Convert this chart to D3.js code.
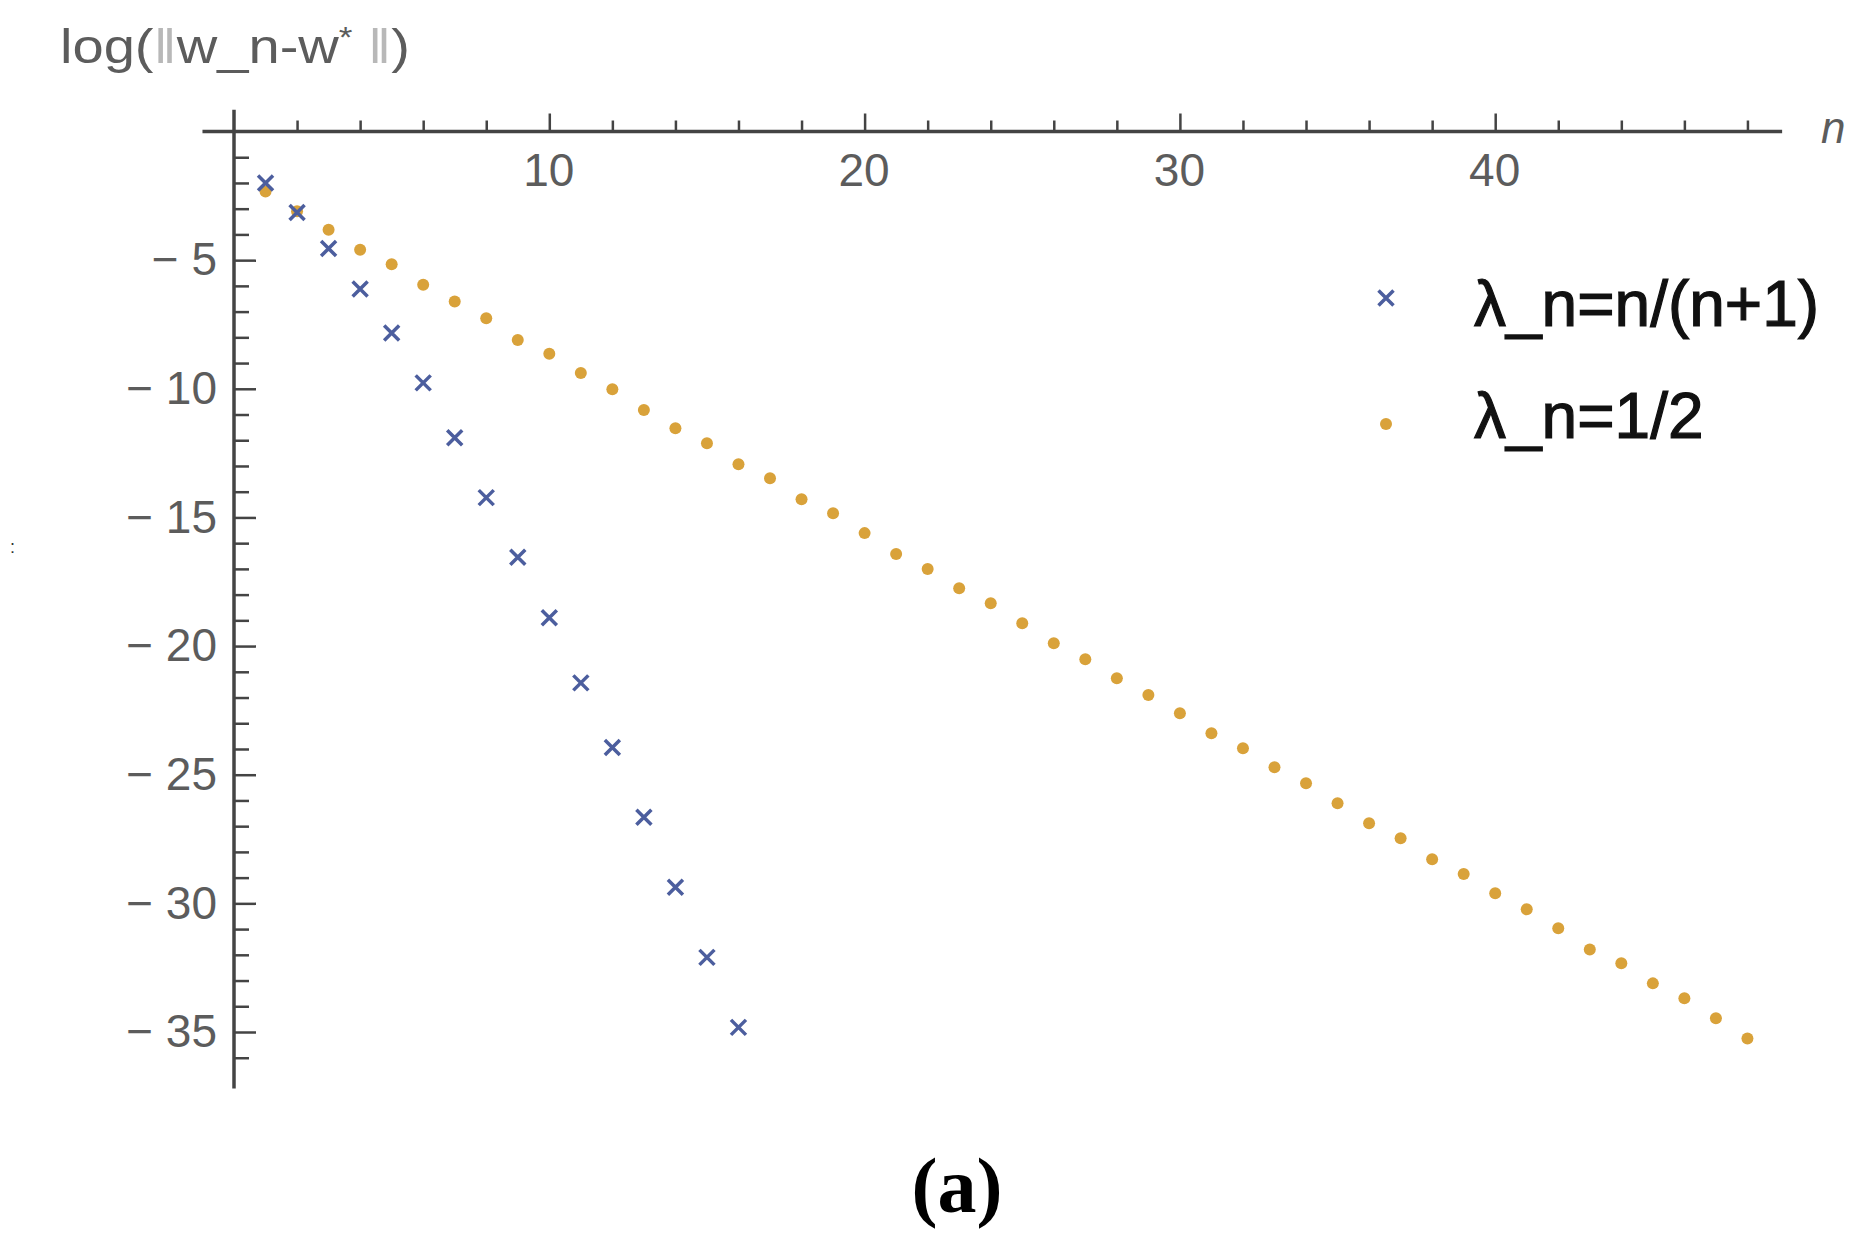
<!DOCTYPE html>
<html>
<head>
<meta charset="utf-8">
<script src="https://cdn.jsdelivr.net/npm/d3@7"></script>
<style>
  html, body { margin: 0; padding: 0; background: #fff; }
  svg { display: block; }
  text { font-family: "Liberation Sans", Arial, sans-serif; }
</style>
</head>
<body>
<svg id="chart"></svg>
<script>
// Données
const nBlue = d3.range(1, 17);
const blueValues = [-2.0, -3.15, -4.55, -6.12, -7.83, -9.77, -11.9, -14.23,
  -16.55, -18.9, -21.43, -23.94, -26.65, -29.37, -32.1, -34.82];

const nOrange = d3.range(1, 49);
const orangeValues = [-2.33, -3.1, -3.82, -4.6, -5.16, -5.96, -6.61, -7.26,
  -8.1, -8.64, -9.39, -10.02, -10.82, -11.53, -12.12, -12.93, -13.48, -14.29,
  -14.84, -15.61, -16.42, -17.0, -17.75, -18.34, -19.11, -19.89, -20.51, -21.25,
  -21.9, -22.61, -23.39, -23.97, -24.71, -25.33, -26.11, -26.89, -27.47, -28.29,
  -28.86, -29.61, -30.23, -30.97, -31.79, -32.33, -33.11, -33.69, -34.47, -35.25];

const xMajorTicks = [10, 20, 30, 40];
const xMinorTicks = d3.range(2, 50, 2).filter(v => v % 10 !== 0);
const yMajorTicks = [-5, -10, -15, -20, -25, -30, -35];
const yMinorTicks = d3.range(-1, -37, -1).filter(v => v % 5 !== 0);

const legendLabels = ["\u03BB_n=n/(n+1)", "\u03BB_n=1/2"];

// Dimensions de la scène
const width = 1864, height = 1242;
const svg = d3.select("#chart").attr("width", width).attr("height", height);

const x = d3.scaleLinear().domain([0, 40]).range([234, 234 + 40 * 31.53]);
const y = d3.scaleLinear().domain([0, -35]).range([131.5, 1032]);

const axisColor = "#444";
const labelColor = "#5c5c5c";

// Axe des x (graduations vers le haut, étiquettes en dessous)
const gx = svg.append("g").attr("transform", `translate(0,${y(0)})`);
gx.append("g")
    .call(d3.axisBottom(x).tickValues(xMinorTicks).tickSize(-11).tickSizeOuter(0).tickFormat(""));
gx.append("g")
    .call(d3.axisBottom(x).tickValues(xMajorTicks).tickSize(-18).tickSizeOuter(0).tickPadding(22));
gx.selectAll(".domain").remove();
gx.selectAll("line").attr("stroke", axisColor).attr("stroke-width", 2.5);
gx.selectAll("text")
    .attr("font-size", 46)
    .attr("fill", labelColor)
    .attr("dx", -1)
    .style("font-family", "Liberation Sans, Arial, sans-serif");
gx.append("line")
    .attr("x1", x(-1)).attr("x2", x(49.1))
    .attr("stroke", axisColor).attr("stroke-width", 3.5);

// Axe des y (graduations vers la droite)
const gy = svg.append("g").attr("transform", `translate(${x(0)},0)`);
gy.append("g")
    .call(d3.axisLeft(y).tickValues(yMinorTicks).tickSize(-15).tickSizeOuter(0).tickFormat(""));
gy.append("g")
    .call(d3.axisLeft(y).tickValues(yMajorTicks).tickSize(-22).tickSizeOuter(0).tickPadding(17)
        .tickFormat(d => "\u2212 " + Math.abs(d)));
gy.selectAll(".domain").remove();
gy.selectAll("line").attr("stroke", axisColor).attr("stroke-width", 2.5);
gy.selectAll("text")
    .attr("font-size", 46)
    .attr("fill", labelColor)
    .style("font-family", "Liberation Sans, Arial, sans-serif");
gy.append("line")
    .attr("y1", y(0.85)).attr("y2", y(-37.2))
    .attr("stroke", axisColor).attr("stroke-width", 3.5);

// Titres des axes
const yTitle = svg.append("text")
    .attr("x", 60).attr("y", 63)
    .attr("font-size", 48)
    .attr("fill", labelColor)
    .attr("textLength", 350)
    .attr("lengthAdjust", "spacingAndGlyphs");
yTitle.append("tspan").text("log(");
yTitle.append("tspan").attr("fill", "#b8b8b8").text("\u2016");
yTitle.append("tspan").text("w_n-w");
yTitle.append("tspan").attr("font-size", 30).attr("dy", -16).text("*");
yTitle.append("tspan").attr("dy", 16).attr("fill", "#b8b8b8").text(" \u2016");
yTitle.append("tspan").text(")");

svg.append("text")
    .attr("x", 1821).attr("y", 143)
    .attr("font-size", 44)
    .attr("font-style", "italic")
    .attr("fill", labelColor)
    .text("n");

svg.append("text")
    .attr("x", 10).attr("y", 553)
    .attr("font-size", 18)
    .attr("fill", "#333")
    .text(":");

// Points oranges (lambda_n = 1/2)
const orangeColor = "#d9a23a";
svg.append("g").selectAll("circle")
    .data(nOrange.map((n, i) => ({ n, v: orangeValues[i] })))
    .enter().append("circle")
    .attr("cx", d => x(d.n))
    .attr("cy", d => y(d.v))
    .attr("r", 6)
    .attr("fill", orangeColor);

// Croix bleues (lambda_n = n/(n+1))
const blueColor = "#4c5e9e";
const cross = "M-7.5,-7.5L7.5,7.5M-7.5,7.5L7.5,-7.5";
svg.append("g").selectAll("path")
    .data(nBlue.map((n, i) => ({ n, v: blueValues[i] })))
    .enter().append("path")
    .attr("transform", d => `translate(${x(d.n)},${y(d.v)})`)
    .attr("d", cross)
    .attr("stroke", blueColor)
    .attr("stroke-width", 3.5)
    .attr("fill", "none");

// Légende
const legend = svg.append("g");
legend.append("path")
    .attr("transform", "translate(1386,298)")
    .attr("d", cross)
    .attr("stroke", blueColor)
    .attr("stroke-width", 3.5)
    .attr("fill", "none");
legend.append("circle")
    .attr("cx", 1386).attr("cy", 424)
    .attr("r", 6)
    .attr("fill", orangeColor);
legend.selectAll("text")
    .data(legendLabels)
    .enter().append("text")
    .attr("x", 1474)
    .attr("y", (d, i) => 326 + i * 112)
    .attr("font-size", 64)
    .attr("fill", "#111")
    .attr("stroke", "#111")
    .attr("stroke-width", 1.2)
    .text(d => d);

// Légende de la figure
svg.append("text")
    .attr("x", 957).attr("y", 1212)
    .attr("text-anchor", "middle")
    .attr("font-size", 78)
    .attr("font-weight", "bold")
    .style("font-family", "Liberation Serif, Times New Roman, serif")
    .text("(a)");
</script>
</body>
</html>
